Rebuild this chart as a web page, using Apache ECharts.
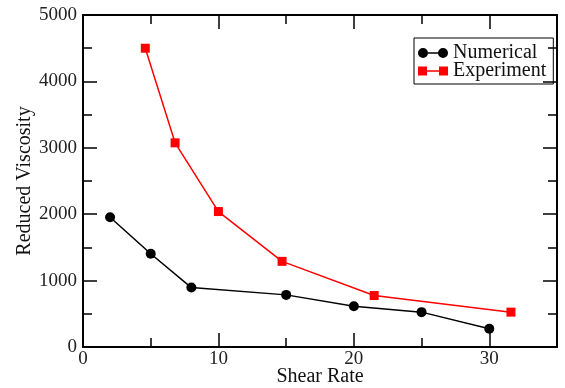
<!DOCTYPE html>
<html>
<head>
<meta charset="utf-8">
<script src="https://cdn.jsdelivr.net/npm/echarts@6/dist/echarts.min.js"></script>
<style>
html,body{margin:0;padding:0;background:#fff;}
#chart{width:565px;height:388px;}
</style>
</head>
<body>
<div id="chart"></div>
<script>
const numericalX = [2, 5, 8, 15, 20, 25, 30];
const numericalY = [1955, 1405, 895, 785, 615, 525, 275];
const experimentX = [4.6, 6.8, 10, 14.7, 21.5, 31.6];
const experimentY = [4500, 3075, 2040, 1290, 775, 525];
const seriesNames = ['Numerical', 'Experiment'];
const xAxisName = 'Shear Rate';
const yAxisName = 'Reduced Viscosity';

const FONT = "'Liberation Serif', 'DejaVu Serif', serif";
const zip = (xs, ys) => xs.map((x, i) => [x, ys[i]]);

const circleIcon = 'path://M0,5A5,5,0,1,1,10,5A5,5,0,1,1,0,5Z M10,4.25H20V5.75H10Z M20,5A5,5,0,1,1,30,5A5,5,0,1,1,20,5Z';
const squareIcon = 'path://M0,0.5H9V9.5H0Z M9,4.25H21V5.75H9Z M21,0.5H30V9.5H21Z';

const baseX = {
  type: 'value', min: 0, max: 35, interval: 10,
  axisLine: {show: true, onZero: false, lineStyle: {color: '#000', width: 2}},
  axisTick: {show: true, inside: true, length: 14, lineStyle: {color: '#000', width: 1.5}},
  minorTick: {show: true, splitNumber: 2, length: 9, lineStyle: {color: '#000', width: 1.5}},
  splitLine: {show: false}
};
const baseY = {
  type: 'value', min: 0, max: 5000, interval: 1000,
  axisLine: {show: true, onZero: false, lineStyle: {color: '#000', width: 2}},
  axisTick: {show: true, inside: true, length: 14, lineStyle: {color: '#000', width: 1.5}},
  minorTick: {show: true, splitNumber: 2, length: 9, lineStyle: {color: '#000', width: 1.5}},
  splitLine: {show: false}
};

const chart = echarts.init(document.getElementById('chart'), null, {renderer: 'canvas'});
chart.setOption({
  animation: false,
  backgroundColor: '#fff',
  grid: {left: 83, right: 8, top: 15, bottom: 41, containLabel: false, outerBoundsMode: 'none'},
  legend: {
    left: 414, top: 38,
    orient: 'vertical',
    itemWidth: 30, itemHeight: 10, itemGap: -2,
    padding: [5, 7, 3, 4],
    borderColor: '#000', borderWidth: 1,
    textStyle: {fontFamily: FONT, fontSize: 20, color: '#111', lineHeight: 18},
    data: [
      {name: seriesNames[0], icon: circleIcon},
      {name: seriesNames[1], icon: squareIcon}
    ]
  },
  xAxis: [
    Object.assign({}, baseX, {
      position: 'bottom',
      name: xAxisName, nameLocation: 'middle', nameGap: 20, nameMoveOverlap: false,
      nameTextStyle: {fontFamily: FONT, fontSize: 20, color: '#111'},
      axisLabel: {show: true, margin: 3, fontFamily: FONT, fontSize: 19, color: '#222',
        showMaxLabel: false, formatter: v => String(v)}
    }),
    Object.assign({}, baseX, {position: 'top', axisLabel: {show: false}})
  ],
  yAxis: [
    Object.assign({}, baseY, {
      position: 'left',
      name: yAxisName, nameLocation: 'middle', nameGap: 48, nameRotate: 90, nameMoveOverlap: false,
      nameTextStyle: {fontFamily: FONT, fontSize: 20, color: '#111'},
      axisLabel: {show: true, margin: 6, fontFamily: FONT, fontSize: 19, color: '#222',
        formatter: v => String(v)}
    }),
    Object.assign({}, baseY, {position: 'right', axisLabel: {show: false}})
  ],
  series: [
    {
      name: seriesNames[0], type: 'line', xAxisIndex: 0, yAxisIndex: 0,
      data: zip(numericalX, numericalY),
      symbol: 'circle', symbolSize: 10,
      itemStyle: {color: '#000'},
      lineStyle: {color: '#000', width: 1.5}
    },
    {
      name: seriesNames[1], type: 'line', xAxisIndex: 0, yAxisIndex: 0,
      data: zip(experimentX, experimentY),
      symbol: 'rect', symbolSize: 9,
      itemStyle: {color: '#ff0000'},
      lineStyle: {color: '#ff0000', width: 1.5}
    }
  ]
});
</script>
</body>
</html>
